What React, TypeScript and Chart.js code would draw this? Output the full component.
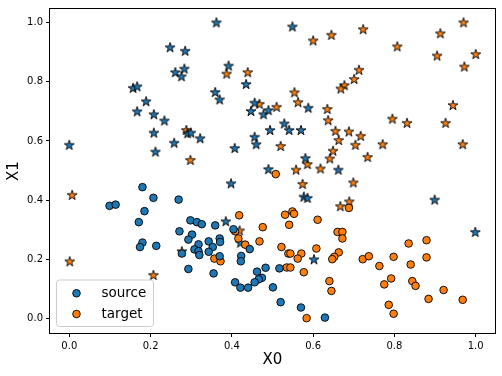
import React, { useEffect, useRef } from "react";
import { Chart, registerables } from "chart.js";

Chart.register(...registerables);

const X_TICKS = [0, 0.2, 0.4, 0.6, 0.8, 1.0];
const Y_TICKS = [0, 0.2, 0.4, 0.6, 0.8, 1.0];
const X_LABEL = "X0";
const Y_LABEL = "X1";
const LEGEND_LABELS = ["source", "target"];

// source domain, class 0 (circles)
const sourceCircles: [number, number][] = [
  [0.180, 0.444], [0.207, 0.408], [0.099, 0.381], [0.114, 0.385], [0.185, 0.363],
  [0.171, 0.326], [0.269, 0.402], [0.298, 0.332], [0.314, 0.326], [0.326, 0.319],
  [0.359, 0.315], [0.180, 0.257], [0.174, 0.242], [0.214, 0.246], [0.271, 0.295],
  [0.302, 0.284], [0.293, 0.267], [0.318, 0.251], [0.343, 0.261], [0.370, 0.271],
  [0.371, 0.259], [0.353, 0.242], [0.308, 0.234], [0.318, 0.228], [0.320, 0.215],
  [0.343, 0.226], [0.370, 0.211], [0.277, 0.220], [0.293, 0.168], [0.355, 0.153],
  [0.404, 0.302], [0.444, 0.235], [0.423, 0.212], [0.422, 0.194], [0.462, 0.159],
  [0.483, 0.172], [0.474, 0.138], [0.466, 0.133], [0.456, 0.123], [0.408, 0.123],
  [0.421, 0.105], [0.440, 0.105], [0.501, 0.106], [0.517, 0.170], [0.520, 0.056],
  [0.570, 0.038], [0.629, 0.004],
];

// target domain, class 0 (circles)
const targetCircles: [number, number][] = [
  [0.418, 0.349], [0.357, 0.203], [0.372, 0.194], [0.408, 0.295], [0.416, 0.271],
  [0.433, 0.250], [0.476, 0.309], [0.468, 0.261], [0.508, 0.488], [0.688, 0.374],
  [0.531, 0.351], [0.549, 0.362], [0.553, 0.354], [0.611, 0.334], [0.541, 0.317],
  [0.660, 0.293], [0.672, 0.293], [0.672, 0.271], [0.522, 0.242], [0.608, 0.237],
  [0.539, 0.220], [0.544, 0.220], [0.571, 0.220], [0.562, 0.203], [0.663, 0.224],
  [0.652, 0.209], [0.647, 0.201], [0.722, 0.201], [0.737, 0.211], [0.763, 0.178],
  [0.535, 0.173], [0.544, 0.173], [0.577, 0.157], [0.640, 0.127], [0.645, 0.094],
  [0.775, 0.116], [0.584, 0.002], [0.835, 0.254], [0.879, 0.265], [0.798, 0.209],
  [0.879, 0.207], [0.840, 0.183], [0.792, 0.136], [0.844, 0.127], [0.852, 0.111],
  [0.921, 0.097], [0.884, 0.067], [0.968, 0.064], [0.786, 0.047], [0.798, 0.017],
];

// source domain, class 1 (stars)
const sourceStars: [number, number][] = [
  [0.157, 0.779], [0.167, 0.784], [0.189, 0.734], [0.167, 0.700], [0.208, 0.690],
  [0.362, 1.000], [0.248, 0.916], [0.285, 0.904], [0.261, 0.832], [0.283, 0.844],
  [0.276, 0.818], [0.392, 0.854], [0.435, 0.792], [0.359, 0.765], [0.370, 0.740],
  [0.456, 0.729], [0.447, 0.701], [0.478, 0.690], [0.490, 0.704], [0.549, 0.986],
  [0.588, 0.712], [0.208, 0.628], [0.212, 0.564], [0.000, 0.587], [0.234, 0.669],
  [0.291, 0.626], [0.299, 0.628], [0.322, 0.609], [0.258, 0.594], [0.407, 0.576],
  [0.398, 0.457], [0.494, 0.637], [0.456, 0.614], [0.460, 0.589], [0.490, 0.505],
  [0.385, 0.329], [0.529, 0.659], [0.541, 0.637], [0.570, 0.637], [0.581, 0.542],
  [0.662, 0.503], [0.577, 0.412], [0.586, 0.408], [0.899, 0.402], [0.999, 0.293],
  [0.602, 0.201], [0.421, 0.257],
];

// target domain, class 1 (stars)
const targetStars: [number, number][] = [
  [0.387, 0.827], [0.439, 0.832], [0.468, 0.725], [0.510, 0.715], [0.600, 0.939],
  [0.645, 0.958], [0.723, 0.977], [0.713, 0.840], [0.701, 0.809], [0.677, 0.788],
  [0.668, 0.777], [0.554, 0.764], [0.563, 0.731], [0.635, 0.708], [0.637, 0.670],
  [0.970, 1.000], [0.913, 0.963], [0.807, 0.919], [0.905, 0.888], [1.000, 0.893],
  [0.972, 0.851], [0.944, 0.721], [0.795, 0.675], [0.007, 0.418], [0.288, 0.637],
  [0.298, 0.536], [0.655, 0.634], [0.688, 0.632], [0.717, 0.617], [0.663, 0.603],
  [0.704, 0.587], [0.771, 0.589], [0.520, 0.583], [0.649, 0.567], [0.641, 0.541],
  [0.734, 0.546], [0.586, 0.522], [0.618, 0.507], [0.558, 0.503], [0.699, 0.460],
  [0.574, 0.455], [0.689, 0.396], [0.667, 0.380], [0.831, 0.661], [0.926, 0.661],
  [0.968, 0.589], [0.001, 0.194], [0.207, 0.148], [0.277, 0.228], [0.419, 0.298],
];

const BLUE = "#1f77b4";
const ORANGE = "#ff7f0e";
const EDGE = "rgba(0,0,0,0.9)";
const FONT = "'DejaVu Sans', 'Liberation Sans', sans-serif";

function makeStar(fill: string): HTMLCanvasElement {
  const size = 14;
  const c = document.createElement("canvas");
  c.width = size;
  c.height = size;
  const ctx = c.getContext("2d")!;
  const R = 5.2;
  const r = R * 0.382;
  const cx = size / 2;
  const cy = size / 2 + 0.5;
  ctx.beginPath();
  for (let i = 0; i < 10; i++) {
    const a = -Math.PI / 2 + (i * Math.PI) / 5;
    const rad = i % 2 === 0 ? R : r;
    const px = cx + rad * Math.cos(a);
    const py = cy + rad * Math.sin(a);
    if (i === 0) ctx.moveTo(px, py);
    else ctx.lineTo(px, py);
  }
  ctx.closePath();
  ctx.fillStyle = fill;
  ctx.fill();
  ctx.lineWidth = 1;
  ctx.lineJoin = "miter";
  ctx.strokeStyle = EDGE;
  ctx.stroke();
  return c;
}

const toPts = (arr: [number, number][]) => arr.map(([x, y]) => ({ x, y }));

const framePlugin = {
  id: "mplFrame",
  afterDatasetsDraw(chart: any) {
    const ctx = chart.ctx;
    const ca = chart.chartArea;
    // legend
    const x0 = ca.left + 6.5;
    const y0 = ca.bottom - 53;
    const w = 97;
    const h = 46.5;
    const rr = 3;
    ctx.save();
    ctx.beginPath();
    ctx.moveTo(x0 + rr, y0);
    ctx.lineTo(x0 + w - rr, y0);
    ctx.quadraticCurveTo(x0 + w, y0, x0 + w, y0 + rr);
    ctx.lineTo(x0 + w, y0 + h - rr);
    ctx.quadraticCurveTo(x0 + w, y0 + h, x0 + w - rr, y0 + h);
    ctx.lineTo(x0 + rr, y0 + h);
    ctx.quadraticCurveTo(x0, y0 + h, x0, y0 + h - rr);
    ctx.lineTo(x0, y0 + rr);
    ctx.quadraticCurveTo(x0, y0, x0 + rr, y0);
    ctx.closePath();
    ctx.fillStyle = "rgba(255,255,255,0.8)";
    ctx.fill();
    ctx.strokeStyle = "#cccccc";
    ctx.lineWidth = 1;
    ctx.stroke();
    LEGEND_LABELS.forEach((label, i) => {
      const ds = chart.data.datasets[i];
      const cy = y0 + 13.3 + i * 20.7;
      ctx.beginPath();
      ctx.arc(x0 + 20, cy, 3.8, 0, Math.PI * 2);
      ctx.fillStyle = ds.backgroundColor;
      ctx.fill();
      ctx.strokeStyle = EDGE;
      ctx.lineWidth = 1;
      ctx.stroke();
      ctx.fillStyle = "#000";
      ctx.font = `13.5px ${FONT}`;
      ctx.textAlign = "left";
      ctx.textBaseline = "middle";
      ctx.fillText(label, x0 + 45, cy);
    });
    // frame
    ctx.strokeStyle = "#000";
    ctx.lineWidth = 1;
    ctx.strokeRect(ca.left - 0.5, ca.top - 0.5, ca.right - ca.left + 1, ca.bottom - ca.top + 1);
    ctx.restore();
  },
  afterDraw(chart: any) {
    const ctx = chart.ctx;
    const ca = chart.chartArea;
    ctx.save();
    ctx.fillStyle = "#000";
    ctx.font = `15px ${FONT}`;
    ctx.textAlign = "center";
    ctx.textBaseline = "middle";
    ctx.fillText(X_LABEL, (ca.left + ca.right) / 2, 360);
    ctx.translate(14, (ca.top + ca.bottom) / 2);
    ctx.rotate(-Math.PI / 2);
    ctx.fillText(Y_LABEL, 0, 0);
    ctx.restore();
  },
};

export default function App() {
  const ref = useRef<HTMLCanvasElement | null>(null);

  useEffect(() => {
    if (!ref.current) return;
    const circleBase = {
      pointStyle: "circle",
      pointRadius: 3.8,
      pointBorderWidth: 1,
      pointBorderColor: EDGE,
    };
    const chart = new Chart(ref.current, {
      type: "scatter",
      data: {
        datasets: [
          {
            label: LEGEND_LABELS[0],
            data: toPts(sourceCircles),
            backgroundColor: BLUE,
            pointBackgroundColor: BLUE,
            ...circleBase,
          } as any,
          {
            label: LEGEND_LABELS[1],
            data: toPts(targetCircles),
            backgroundColor: ORANGE,
            pointBackgroundColor: ORANGE,
            ...circleBase,
          } as any,
          {
            label: "source class 1",
            data: toPts(sourceStars),
            pointStyle: makeStar(BLUE),
            backgroundColor: BLUE,
          } as any,
          {
            label: "target class 1",
            data: toPts(targetStars),
            pointStyle: makeStar(ORANGE),
            backgroundColor: ORANGE,
          } as any,
        ],
      },
      options: {
        animation: false,
        responsive: false,
        devicePixelRatio: 1,
        layout: { padding: { left: 0, top: 7, right: 7, bottom: 0 } },
        plugins: {
          legend: { display: false },
          tooltip: { enabled: false },
        },
        scales: {
          x: {
            type: "linear",
            min: -0.0475,
            max: 1.0475,
            afterBuildTicks: (scale: any) => {
              scale.ticks = X_TICKS.map((v) => ({ value: v }));
            },
            afterFit: (scale: any) => {
              scale.height = 43;
            },
            ticks: {
              color: "#000",
              font: { family: FONT, size: 10 },
              padding: 3,
              maxRotation: 0,
              callback: (v: any) => Number(v).toFixed(1),
            },
            grid: {
              drawOnChartArea: false,
              drawTicks: true,
              tickLength: 4,
              color: "#000",
              lineWidth: 1,
            },
            border: { display: false },
          },
          y: {
            type: "linear",
            min: -0.048,
            max: 1.045,
            afterBuildTicks: (scale: any) => {
              scale.ticks = Y_TICKS.map((v) => ({ value: v }));
            },
            afterFit: (scale: any) => {
              scale.width = 50;
            },
            ticks: {
              color: "#000",
              font: { family: FONT, size: 10 },
              padding: 3,
              callback: (v: any) => Number(v).toFixed(1),
            },
            grid: {
              drawOnChartArea: false,
              drawTicks: true,
              tickLength: 4,
              color: "#000",
              lineWidth: 1,
            },
            border: { display: false },
          },
        },
      } as any,
      plugins: [framePlugin],
    });
    return () => chart.destroy();
  }, []);

  return (
    <div style={{ position: "absolute", left: 0, top: 0, width: 502, height: 376, background: "#fff" }}>
      <canvas ref={ref} width={502} height={376} style={{ width: 502, height: 376, display: "block" }} />
    </div>
  );
}
